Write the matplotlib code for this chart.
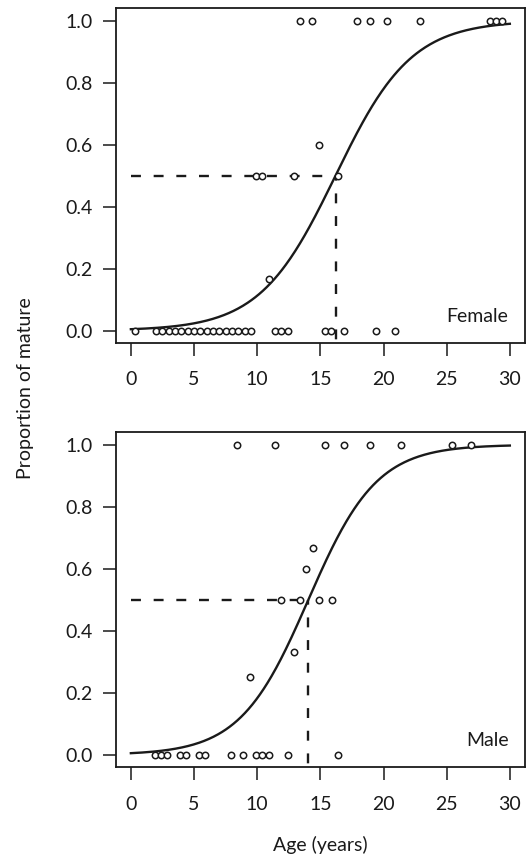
import numpy as np
import matplotlib
matplotlib.use("Agg")
import matplotlib.pyplot as plt

plt.rcParams['font.family'] = ['Lato', 'DejaVu Sans']

# ---- data ----
female_age = [0.3, 2.0, 2.5, 3.0, 3.5, 4.0, 4.5, 5.0, 5.5, 6.0, 6.5, 7.0, 7.5, 8.0, 8.5, 9.0, 9.5,
              11.4, 11.9, 12.4, 15.4, 15.85, 16.9, 19.4, 20.9,
              13.4, 14.3, 17.9, 18.9, 20.3, 22.9, 28.4, 28.9, 29.4,
              9.9, 10.4, 12.9, 16.4, 14.9, 10.9]
female_prop = [0.0]*17 + [0.0]*8 + [1.0]*9 + [0.5, 0.5, 0.5, 0.5, 0.6, 0.167]

male_age = [1.9, 2.4, 2.9, 3.9, 4.4, 5.4, 5.9, 7.9, 8.9, 9.9, 10.4, 10.9, 12.4, 16.4,
            8.4, 11.4, 15.4, 16.9, 18.9, 21.4, 25.4, 26.9,
            14.4, 13.9, 11.9, 13.4, 14.9, 15.9, 12.9, 9.4]
male_prop = [0.0]*14 + [1.0]*8 + [0.667, 0.6, 0.5, 0.5, 0.5, 0.5, 0.333, 0.25]

female_a50, female_slope = 16.2, 0.333
male_a50, male_slope = 14.05, 0.37

x_ticks = [0, 5, 10, 15, 20, 25, 30]
y_ticks = [0.0, 0.2, 0.4, 0.6, 0.8, 1.0]

W, H = 527, 856
fig = plt.figure(figsize=(W/100, H/100), dpi=100)

def px_axes(l, t, r, b):
    return fig.add_axes([l/W, 1-b/H, (r-l)/W, (b-t)/H])

ax1 = px_axes(115.7, 8.3, 525, 343)
ax2 = px_axes(115.7, 432.3, 525, 767.3)

col = '#1a1a1a'
for ax, ages, props, a50, b, lab in [(ax1, female_age, female_prop, female_a50, female_slope, 'Female'),
                                      (ax2, male_age, male_prop, male_a50, male_slope, 'Male')]:
    xs = np.linspace(0, 30, 400)
    ys = 1/(1+np.exp(-b*(xs-a50)))
    ax.plot(xs, ys, color=col, lw=1.7, zorder=3)
    ax.plot([0, a50], [0.5, 0.5], color=col, lw=1.7, dashes=[4.2, 5.4], zorder=2)
    ax.plot([a50, a50], [-0.1, 0.5], color=col, lw=1.7, dashes=[4.2, 5.4], zorder=2)
    ax.plot(ages, props, 'o', mfc='white', mec=col, ms=4.6, mew=1.1, zorder=4, clip_on=False)
    ax.set_xlim(-1.2, 31.2)
    ax.set_ylim(-0.04, 1.04)
    ax.set_xticks(x_ticks)
    ax.set_xticklabels([str(t) for t in x_ticks])
    ax.set_yticks(y_ticks)
    ax.set_yticklabels([f"{t:.1f}" for t in y_ticks])
    ax.tick_params(direction='out', length=9.4, width=1.1, colors=col, labelsize=14,
                   labelcolor=col)
    ax.tick_params(axis='x', pad=11)
    ax.tick_params(axis='y', pad=7)
    for s in ax.spines.values():
        s.set_linewidth(1.3)
        s.set_color(col)
    ax.text(29.9, 0.045, lab, ha='right', va='center', fontsize=14, color=col)

fig.text(26/W, 1-387.8/H, 'Proportion of mature', rotation=90, ha='center', va='center',
         fontsize=14, color=col)
fig.text(320/W, 1-845/H, 'Age (years)', ha='center', va='center', fontsize=14, color=col)

fig.savefig('out.png', dpi=100)
